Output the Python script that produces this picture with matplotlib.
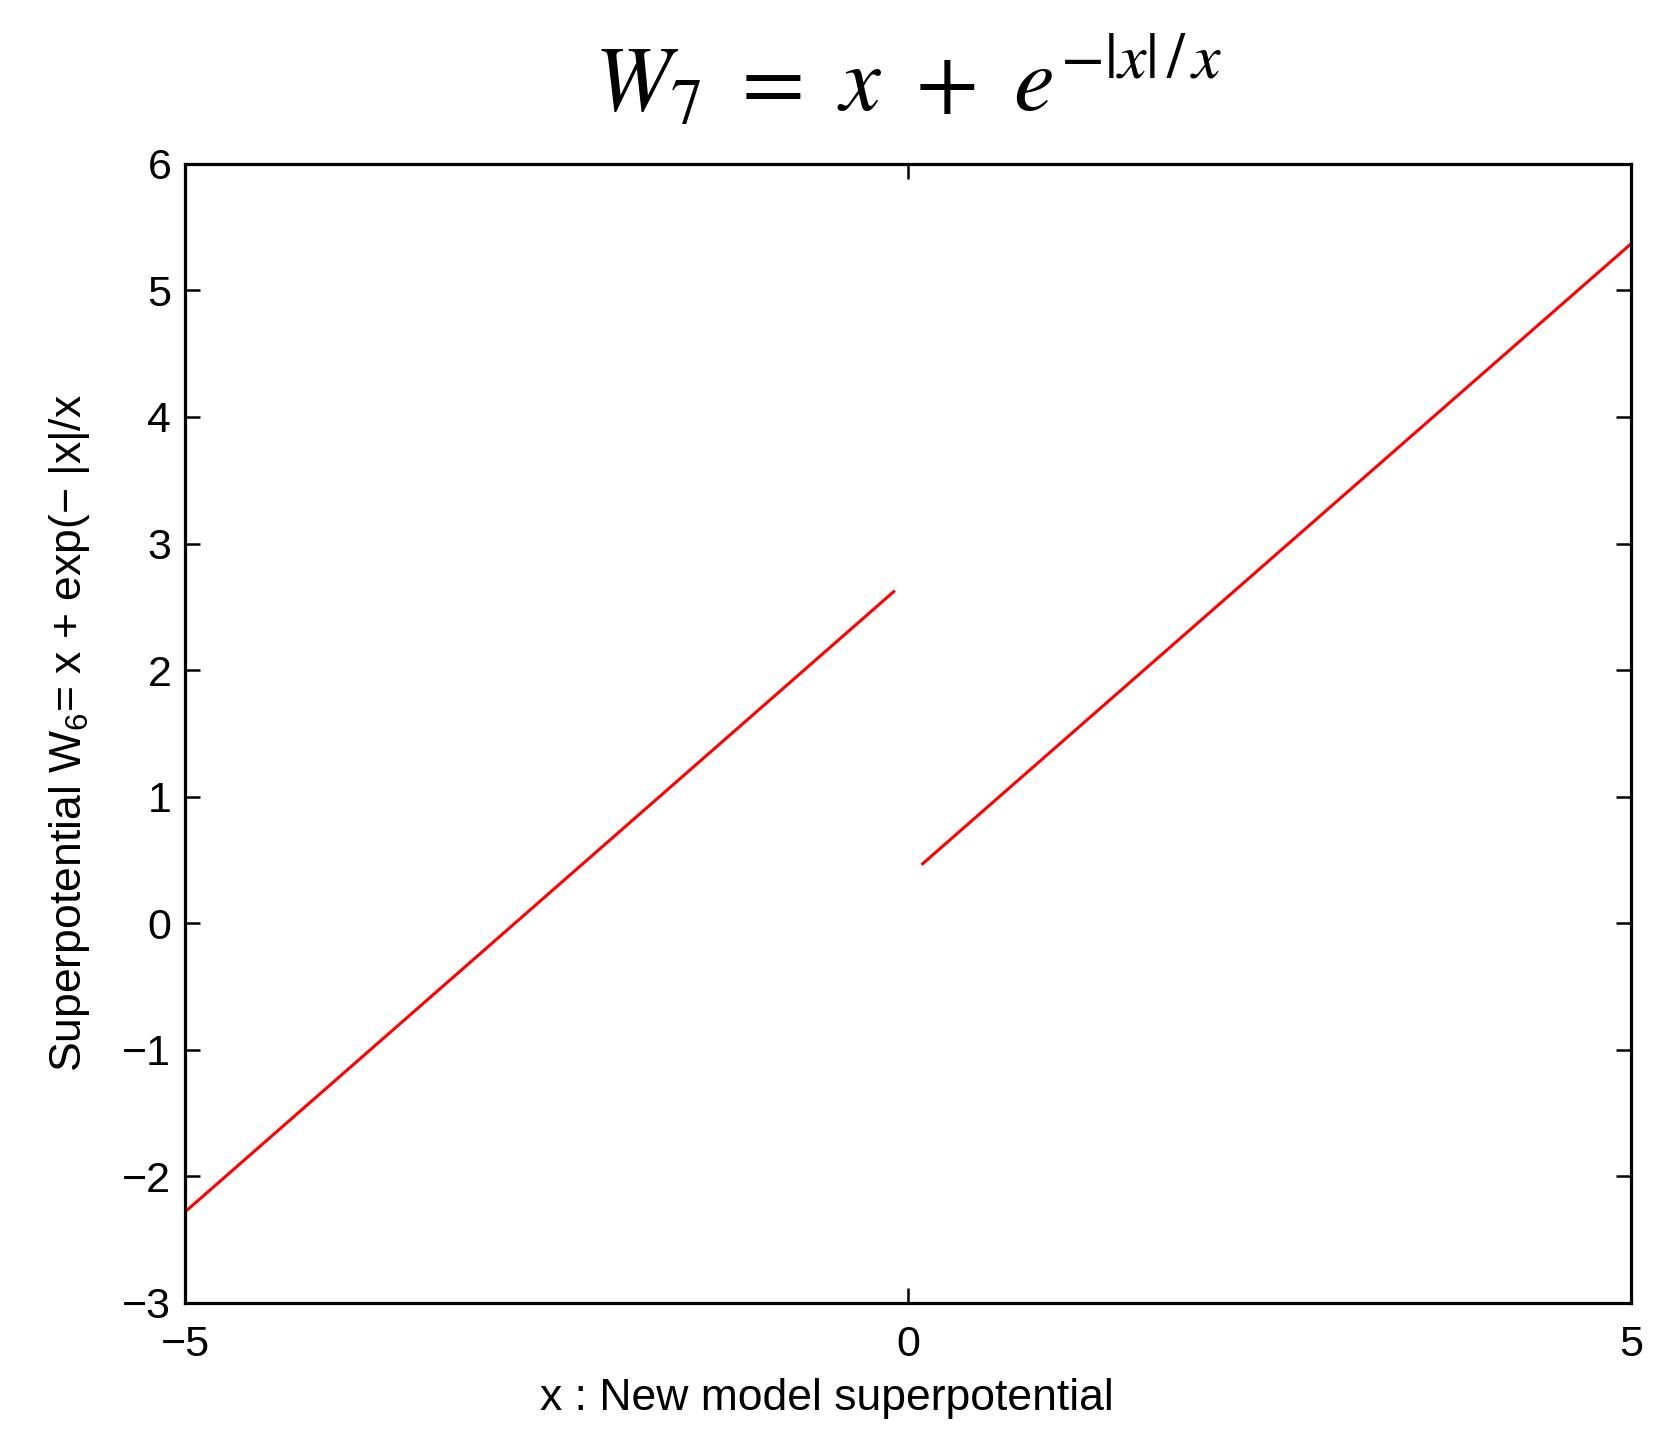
import matplotlib
matplotlib.use("Agg")
import matplotlib.pyplot as plt

# segment end points
x_left = [-5.0, -0.1]
y_left = [-2.28, 2.62]
x_right = [0.1, 5.0]
y_right = [0.47, 5.37]

x_ticks = [-5, 0, 5]
y_ticks = [-3, -2, -1, 0, 1, 2, 3, 4, 5, 6]

plt.rcParams['font.family'] = ['Liberation Sans', 'DejaVu Sans']

fig = plt.figure(figsize=(16.68, 14.41), dpi=100)
ax = fig.add_axes([0.111, 0.0958, 0.867, 0.7905])

ax.plot(x_left, y_left, color='red', lw=2.2)
ax.plot(x_right, y_right, color='red', lw=2.2)

ax.set_xlim(-5, 5)
ax.set_ylim(-3, 6)
ax.set_xticks(x_ticks)
ax.set_yticks(y_ticks)
ax.tick_params(direction='in', length=11, width=1.8, labelsize=31,
               top=True, right=True)
ax.tick_params(axis='x', pad=16)
ax.tick_params(axis='y', pad=10)
for s in ax.spines.values():
    s.set_linewidth(2.3)

ax.set_xlabel('x : New model superpotential', fontsize=32, labelpad=8)
ax.xaxis.set_label_coords(0.444, -0.066)
ax.set_ylabel(r'Superpotential W$\mathregular{_6}$= x + exp(− |x|/x', fontsize=32, labelpad=22)
ax.set_title(r'$W_7\ =\ x\ +\ e^{-|x|\,/\,x}$', fontsize=66, math_fontfamily='stix', pad=38)

fig.savefig('out.png', dpi=100, facecolor='white')
